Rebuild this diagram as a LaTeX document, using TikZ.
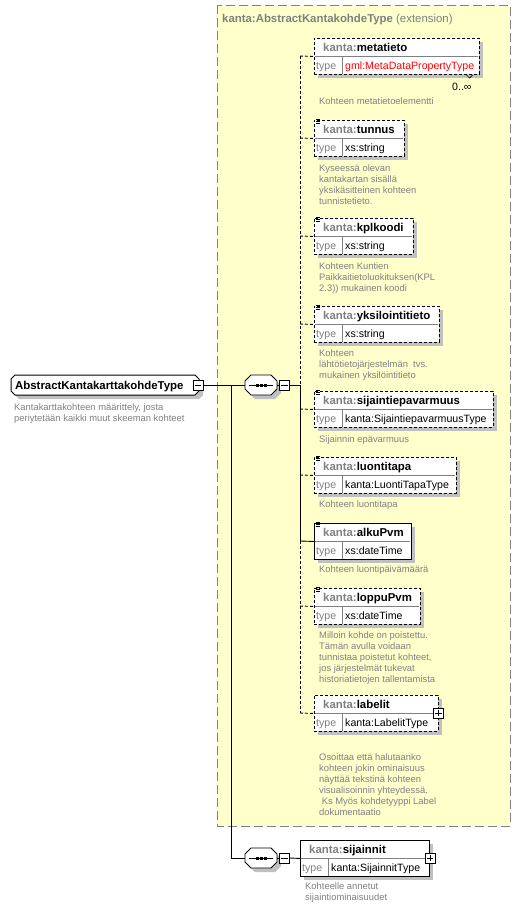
\documentclass[tikz,border=0pt]{standalone}
\usepackage{fontspec}
\setmainfont{Liberation Sans}
\definecolor{yel}{HTML}{FFFFCC}
\definecolor{tgray}{HTML}{808080}
\definecolor{shad}{HTML}{C0C0C0}
\definecolor{tred}{HTML}{FF0000}
\tikzset{
  elbox/.style={draw=black, fill=white, line width=0.9pt, inner sep=0pt, minimum height=36pt, anchor=north west},
  opt/.style={dash pattern=on 3pt off 2pt},
  hdr/.style={font=\fontsize{11.4}{13}\selectfont\bfseries, anchor=base west, inner sep=0pt},
  typel/.style={font=\fontsize{10.6}{12}\selectfont, text=tgray, anchor=base west, inner sep=0pt},
  typev/.style={font=\fontsize{10.6}{12}\selectfont, anchor=base west, inner sep=0pt},
  desc/.style={font=\fontsize{9.4}{11}\selectfont, text=tgray, anchor=base west, inner sep=0pt},
  conn/.style={line width=0.9pt},
  optconn/.style={line width=0.9pt, dash pattern=on 3pt off 2pt},
  pmbox/.style={draw, fill=white, line width=0.8pt, minimum size=10pt, inner sep=0pt},
  divline/.style={tgray, line width=0.8pt},
  anchorbox/.style={inner sep=0pt, draw=none},
}
% #1 name, #2 left, #3 top, #4 width, #5 border style, #6 local name, #7 type text
\newcommand{\elem}[7]{%
  \fill[shad] (#2+4,#3+4) rectangle (#2+#4+4,#3+40);
  \node[elbox,#5,minimum width=#4pt] (#1) at (#2,#3) {};
  \draw[divline] (#2+0.6,#3+18) -- (#2+#4-0.6,#3+18);
  \draw[divline] (#2+28,#3+18.5) -- (#2+28,#3+35.5);
  \node[hdr] (#1-h) at (#2+9,#3+13.5) {\textcolor{tgray}{kanta:}#6};
  \node[typel] (#1-t) at (#2+2,#3+31) {type};
  \node[typev] (#1-v) at (#2+31,#3+31) {#7};
}
\newcommand{\elicon}[2]{%
  \draw[line width=0.7pt] (#1+2,#2-1) -- (#1+6,#2-1) (#1+2,#2+1) -- (#1+6,#2+1) (#1+2,#2+3) -- (#1+6,#2+3);
}
% #1 name, #2 x, #3 first baseline, #4 list of lines
\newcommand{\desctext}[4]{%
  \foreach \t [count=\i] in {#4} {
    \node[desc] (#1-d\i) at (#2,#3+11*\i-11) {\t};
  }
}
% sequence symbol: #1 name, #2 left, #3 center y
\newcommand{\seqsym}[3]{%
  \fill[shad] (#2+4,#3-10+4) -- (#2+26+4,#3-10+4) -- (#2+32+4,#3-4+4) -- (#2+32+4,#3+4+4) -- (#2+26+4,#3+10+4) -- (#2+6+4,#3+10+4) -- (#2+4,#3+4+4) -- cycle;
  \draw[fill=white, line width=0.9pt] (#2+6,#3-10) -- (#2+26,#3-10) -- (#2+32,#3-4) -- (#2+32,#3+4) -- (#2+26,#3+10) -- (#2+6,#3+10) -- (#2,#3+4) -- (#2,#3-4) -- cycle;
  \draw[line width=0.9pt] (#2+4,#3) -- (#2+28,#3);
  \fill (#2+10.5,#3-1.5) rectangle ++(3,3);
  \fill (#2+14.5,#3-1.5) rectangle ++(3,3);
  \fill (#2+18.5,#3-1.5) rectangle ++(3,3);
  \node[anchorbox, minimum width=32pt, minimum height=20pt] (#1) at (#2+16,#3) {};
}
\begin{document}
\begin{tikzpicture}[x=1pt,y=-1pt]
\useasboundingbox (0,0) rectangle (521,908);
\fill[white] (0,0) rectangle (521,908);

% extension area
\draw[fill=yel, draw=tgray, line width=1pt, dash pattern=on 9pt off 4pt] (217,5) rectangle (510,826);
\node[anchor=base west, inner sep=0pt, text=tgray, font=\fontsize{11.4}{13}\selectfont] (exttitle) at (222,22) {\textbf{kanta:AbstractKantakohdeType} (extension)};

% main node
\fill[shad] (15+4,375+4) -- (195+4,375+4) -- (199+4,379+4) -- (199+4,391+4) -- (195+4,395+4) -- (15+4,395+4) -- (11+4,391+4) -- (11+4,379+4) -- cycle;
\draw[fill=white, line width=1pt] (15,375) -- (195,375) -- (199,379) -- (199,391) -- (195,395) -- (15,395) -- (11,391) -- (11,379) -- cycle;
\node[anchorbox, minimum width=188pt, minimum height=20pt] (main) at (105,385) {};
\node[hdr] (main-h) at (15,389.5) {AbstractKantakarttakohdeType};
\desctext{main}{14}{410.5}{{Kantakarttakohteen määrittely, josta},{periytetään kaikki muut skeeman kohteet}}

% junction coordinates
\coordinate (j-main) at (231,385);
\coordinate (j-bot) at (231,858);
\coordinate (j-seq) at (300,385);
\coordinate (j-metatieto) at (300,56);
\coordinate (j-tunnus) at (300,138);
\coordinate (j-kplkoodi) at (300,236);
\coordinate (j-yksilointitieto) at (300,324);
\coordinate (j-sijaintiepavarmuus) at (300,409);
\coordinate (j-luontitapa) at (300,475);
\coordinate (j-alkuPvm) at (300,541);
\coordinate (j-loppuPvm) at (300,606);
\coordinate (j-labelit) at (300,713);

% trunk lines
\draw[conn] (main.east) -- (245,385);
\draw[conn] (j-main) -- (j-bot) -- (245,858);

% sequences
\seqsym{seq1}{245}{385}
\seqsym{seq2}{245}{858}
\node[pmbox] (sm1) at (284.5,385) {};
\draw[line width=0.8pt] ([xshift=2pt]sm1.west) -- ([xshift=-2pt]sm1.east);
\node[pmbox] (sm2) at (284.5,858) {};
\draw[line width=0.8pt] ([xshift=2pt]sm2.west) -- ([xshift=-2pt]sm2.east);
\draw[conn] (seq1.east) -- (sm1.west);
\draw[conn] (seq2.east) -- (sm2.west);
\draw[conn] (sm1.east) -- (j-seq);

% spine
\draw[optconn] (j-metatieto) -- (j-seq);
\draw[conn] (j-seq) -- (j-alkuPvm);
\draw[optconn] (j-alkuPvm) -- (j-labelit);

% elements
\elem{metatieto}{314}{38}{165}{opt}{metatieto}{\textcolor{tred}{gml:MetaDataPropertyType}}
\elem{tunnus}{314}{120}{90}{opt}{tunnus}{xs:string}
\elem{kplkoodi}{314}{218}{99}{opt}{kplkoodi}{xs:string}
\elem{yksilointitieto}{314}{306}{125}{opt}{yksilointitieto}{xs:string}
\elem{sijaintiepavarmuus}{314}{391}{179}{opt}{sijaintiepavarmuus}{kanta:SijaintiepavarmuusType}
\elem{luontitapa}{314}{457}{142}{opt}{luontitapa}{kanta:LuontiTapaType}
\elem{alkuPvm}{314}{523}{97}{solid}{alkuPvm}{xs:dateTime}
\elem{loppuPvm}{314}{588}{106}{opt}{loppuPvm}{xs:dateTime}
\elem{labelit}{314}{695}{124}{opt}{labelit}{kanta:LabelitType}
\elem{sijainnit}{300}{840}{129}{solid}{sijainnit}{kanta:SijainnitType}

\elicon{314}{120}
\elicon{314}{218}
\elicon{314}{306}
\elicon{314}{391}
\elicon{314}{457}
\elicon{314}{523}
\elicon{314}{588}

% connectors to elements
\draw[optconn] (j-metatieto) -- (metatieto.west);
\draw[optconn] (j-tunnus) -- (tunnus.west);
\draw[optconn] (j-kplkoodi) -- (kplkoodi.west);
\draw[optconn] (j-yksilointitieto) -- (yksilointitieto.west);
\draw[optconn] (j-sijaintiepavarmuus) -- (sijaintiepavarmuus.west);
\draw[optconn] (j-luontitapa) -- (luontitapa.west);
\draw[conn] (j-alkuPvm) -- (alkuPvm.west);
\draw[optconn] (j-loppuPvm) -- (loppuPvm.west);
\draw[optconn] (j-labelit) -- (labelit.west);
\draw[conn] (sm2.east) -- (sijainnit.west);

% plus boxes
\node[pmbox] (pl1) at (438.5,713) {};
\draw[line width=0.8pt] ([xshift=2pt]pl1.west) -- ([xshift=-2pt]pl1.east) ([yshift=-2pt]pl1.north) -- ([yshift=2pt]pl1.south);
\node[pmbox] (pl2) at (430,858) {};
\draw[line width=0.8pt] ([xshift=2pt]pl2.west) -- ([xshift=-2pt]pl2.east) ([yshift=-2pt]pl2.north) -- ([yshift=2pt]pl2.south);
\node[pmbox] (mm0) at (198,385) {};
\draw[line width=0.8pt] ([xshift=2pt]mm0.west) -- ([xshift=-2pt]mm0.east);

% multiplicity
\draw[line width=0.7pt] (466,74.5) -- (469.5,78) -- (472.5,75);
\node[anchor=base west, inner sep=0pt, font=\fontsize{10.6}{12}\selectfont] (mult) at (452,90.5) {0..∞};

% descriptions
\desctext{metatieto}{319}{104.5}{{Kohteen metatietoelementti}}
\desctext{tunnus}{319}{171.5}{{Kyseessä olevan},{kantakartan sisällä},{yksikäsitteinen kohteen},{tunnistetieto.}}
\desctext{kplkoodi}{319}{269.5}{{Kohteen Kuntien},{Paikkaitietoluokituksen(KPL},{2.3)) mukainen koodi}}
\desctext{yksilointitieto}{319}{356.5}{{Kohteen},{lähtötietojärjestelmän\ \ tvs.},{mukainen yksilöintitieto}}
\desctext{sijaintiepavarmuus}{319}{442.5}{{Sijainnin epävarmuus}}
\desctext{luontitapa}{319}{507.5}{{Kohteen luontitapa}}
\desctext{alkuPvm}{319}{572.5}{{Kohteen luontipäivämäärä}}
\desctext{loppuPvm}{319}{638.5}{{Milloin kohde on poistettu.},{Tämän avulla voidaan},{tunnistaa poistetut kohteet,},{jos järjestelmät tukevat},{historiatietojen tallentamista}}
\desctext{labelit}{319}{760.5}{{Osoittaa että halutaanko},{kohteen jokin ominaisuus},{näyttää tekstinä kohteen},{visualisoinnin yhteydessä.},{\ Ks Myös kohdetyyppi Label},{dokumentaatio}}
\desctext{sijainnit}{305}{889.5}{{Kohteelle annetut},{sijaintiominaisuudet}}
\end{tikzpicture}
\end{document}
